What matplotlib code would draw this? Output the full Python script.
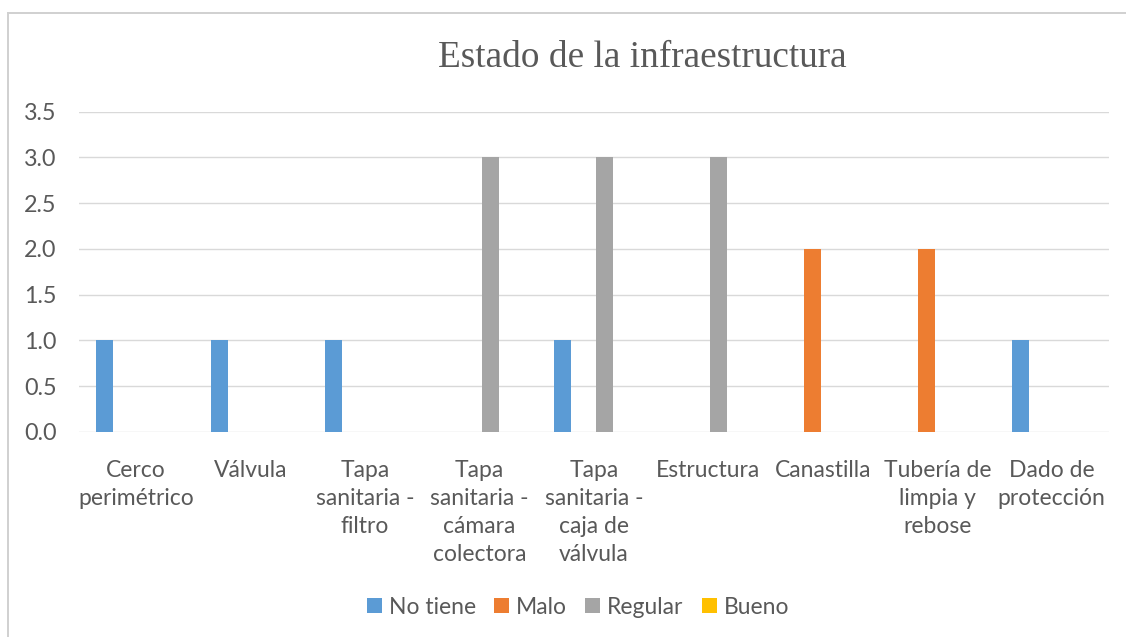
import matplotlib
matplotlib.use("Agg")
import matplotlib.pyplot as plt
from matplotlib.lines import Line2D
import numpy as np

categories = ["Cerco\nperimétrico", "Válvula", "Tapa\nsanitaria -\nfiltro",
              "Tapa\nsanitaria -\ncámara\ncolectora", "Tapa\nsanitaria -\ncaja de\nválvula",
              "Estructura", "Canastilla", "Tubería de\nlimpia y\nrebose", "Dado de\nprotección"]
series_names = ["No tiene", "Malo", "Regular", "Bueno"]
no_tiene = [1, 1, 1, 0, 1, 0, 0, 0, 1]
malo = [0, 0, 0, 0, 0, 0, 2, 2, 0]
regular = [0, 0, 0, 3, 3, 3, 0, 0, 0]
bueno = [0, 0, 0, 0, 0, 0, 0, 0, 0]
colors = ["#5B9BD5", "#ED7D31", "#A5A5A5", "#FFC000"]
yticks = [0.0, 0.5, 1.0, 1.5, 2.0, 2.5, 3.0, 3.5]

W, H = 1126, 637
fig = plt.figure(figsize=(W / 100, H / 100), dpi=100)
ax = fig.add_axes([79 / W, 1 - 432 / H, (1109 - 79) / W, (432 - 111.7) / H])

txt = "#595959"
lab_font = "Lato"
x = np.arange(len(categories))
step = 21 / 114.4
bw = 17 / 114.4
for i, (vals, c, name) in enumerate(zip([no_tiene, malo, regular, bueno], colors, series_names)):
    ax.bar(x + (i - 1.5) * step, vals, width=bw, color=c, label=name, zorder=3)

ax.set_xlim(-0.5, len(categories) - 0.5)
ax.set_ylim(0, 3.5)
ax.set_yticks(yticks)
ax.set_yticklabels([f"{v:.1f}" for v in yticks], fontsize=16.8, color=txt, family=lab_font)
ax.set_xticks(x)
ax.set_xticklabels(categories, fontsize=16.5, color=txt, family=lab_font, linespacing=1.42)
ax.tick_params(axis="both", length=0)
ax.tick_params(axis="y", pad=16)
ax.tick_params(axis="x", pad=20)
ax.grid(axis="y", color="#D9D9D9", linewidth=1.0, zorder=0)
for s in ax.spines.values():
    s.set_visible(False)

fig.text(642 / W, 1 - 67 / H, "Estado de la infraestructura", ha="center", va="baseline",
         fontsize=26.8, color=txt, family="Liberation Serif")

leg = fig.legend(loc="center", bbox_to_anchor=(578 / W, 1 - 607 / H), ncol=4, frameon=False,
                 prop={"family": lab_font, "size": 16.5}, handlelength=0.65, handleheight=0.65,
                 handletextpad=0.3, columnspacing=0.8, labelcolor=txt)

# outer chart border (top and left visible)
fig.add_artist(Line2D([8 / W, 8 / W], [0, 1 - 13 / H], transform=fig.transFigure, color="#D0D0D0", linewidth=1.4))
fig.add_artist(Line2D([8 / W, 1], [1 - 13 / H, 1 - 13 / H], transform=fig.transFigure, color="#D0D0D0", linewidth=1.4))

fig.savefig("out.png", dpi=100)
